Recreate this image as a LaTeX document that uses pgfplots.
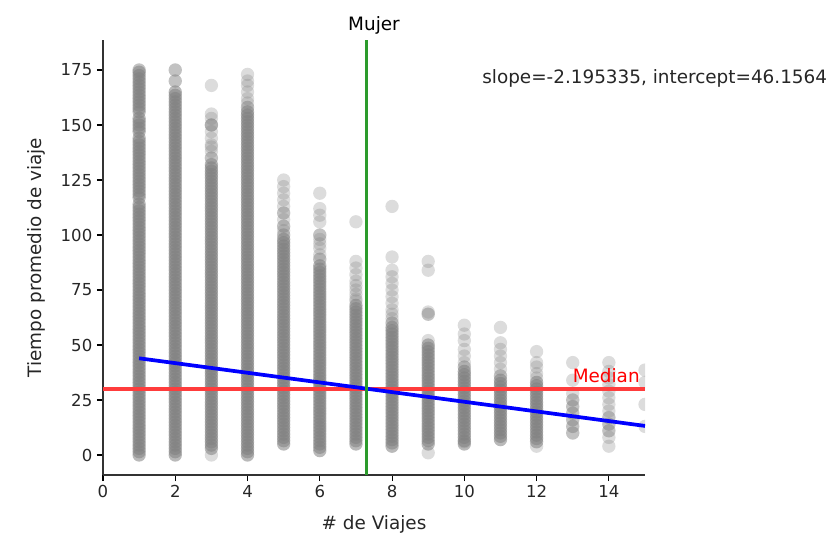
\documentclass[border=0pt]{standalone}
\usepackage{fontspec}
\setmainfont{DejaVu Sans}
\usepackage{pgfplots}
\pgfplotsset{compat=1.18}
\definecolor{pgray}{RGB}{128,128,128}
\definecolor{mgreen}{RGB}{44,155,44}
\definecolor{mred}{RGB}{255,60,60}
\begin{document}
\begin{tikzpicture}
\useasboundingbox (-77.25pt,-42.75pt) rectangle (543.75pt,356.25pt);
\begin{axis}[
  scale only axis, width=406.5pt, height=326.25pt,
  xmin=0, xmax=15, ymin=-9.09, ymax=188.64,
  axis lines=left, axis line style={-, draw=black!80, line width=0.8pt},
  tick align=outside, major tick length=4.5pt,
  tick style={black, line width=0.8pt},
  xtick={0,2,...,14}, ytick={0,25,...,175},
  /pgf/number format/assume math mode=true,
  ticklabel style={font=\fontsize{12.4}{14}\selectfont, text=black!85},
  xlabel={\# de Viajes}, ylabel={Tiempo promedio de viaje},
  label style={font=\fontsize{13.8}{16}\selectfont, text=black!85},
  xlabel style={yshift=-6pt}, ylabel style={yshift=5pt},
  title={Mujer}, title style={font=\fontsize{13.8}{16}\selectfont, yshift=-5pt},
  clip marker paths=true,
  dense/.style={only marks, mark=*, mark size=5pt, color=pgray, mark options={fill=pgray, draw opacity=0, fill opacity=0.55}},
]
% dense parts of each column
\addplot[dense] coordinates {
(1,0)(1,3)(1,6)(1,9)(1,12)(1,15)(1,18)(1,21)(1,24)(1,27)(1,30)(1,33)(1,36)(1,39)(1,42)(1,45)(1,48)(1,51)(1,54)(1,57)(1,60)(1,63)(1,66)(1,69)(1,72)(1,75)(1,78)(1,81)(1,84)(1,87)(1,90)(1,93)(1,96)(1,99)(1,102)(1,105)(1,108)(1,111)(1,114)(1,117)(1,120)(1,123)(1,126)(1,129)(1,132)(1,135)(1,138)(1,141)(1,144)(1,147)(1,150)(1,153)(1,156)(1,159)(1,162)(1,165)(1,168)(1,171)(1,174)
(2,0)(2,3)(2,6)(2,9)(2,12)(2,15)(2,18)(2,21)(2,24)(2,27)(2,30)(2,33)(2,36)(2,39)(2,42)(2,45)(2,48)(2,51)(2,54)(2,57)(2,60)(2,63)(2,66)(2,69)(2,72)(2,75)(2,78)(2,81)(2,84)(2,87)(2,90)(2,93)(2,96)(2,99)(2,102)(2,105)(2,108)(2,111)(2,114)(2,117)(2,120)(2,123)(2,126)(2,129)(2,132)(2,135)(2,138)(2,141)(2,144)(2,147)(2,150)(2,153)(2,156)(2,159)(2,162)(2,165)
(3,3)(3,6)(3,9)(3,12)(3,15)(3,18)(3,21)(3,24)(3,27)(3,30)(3,33)(3,36)(3,39)(3,42)(3,45)(3,48)(3,51)(3,54)(3,57)(3,60)(3,63)(3,66)(3,69)(3,72)(3,75)(3,78)(3,81)(3,84)(3,87)(3,90)(3,93)(3,96)(3,99)(3,102)(3,105)(3,108)(3,111)(3,114)(3,117)(3,120)(3,123)(3,126)(3,129)(3,132)
(4,0)(4,3)(4,6)(4,9)(4,12)(4,15)(4,18)(4,21)(4,24)(4,27)(4,30)(4,33)(4,36)(4,39)(4,42)(4,45)(4,48)(4,51)(4,54)(4,57)(4,60)(4,63)(4,66)(4,69)(4,72)(4,75)(4,78)(4,81)(4,84)(4,87)(4,90)(4,93)(4,96)(4,99)(4,102)(4,105)(4,108)(4,111)(4,114)(4,117)(4,120)(4,123)(4,126)(4,129)(4,132)(4,135)(4,138)(4,141)(4,144)(4,147)(4,150)(4,153)(4,156)
(5,5)(5,8)(5,11)(5,14)(5,17)(5,20)(5,23)(5,26)(5,29)(5,32)(5,35)(5,38)(5,41)(5,44)(5,47)(5,50)(5,53)(5,56)(5,59)(5,62)(5,65)(5,68)(5,71)(5,74)(5,77)(5,80)(5,83)(5,86)(5,89)(5,92)(5,95)(5,98)
(6,2)(6,5)(6,8)(6,11)(6,14)(6,17)(6,20)(6,23)(6,26)(6,29)(6,32)(6,35)(6,38)(6,41)(6,44)(6,47)(6,50)(6,53)(6,56)(6,59)(6,62)(6,65)(6,68)(6,71)(6,74)(6,77)(6,80)(6,83)(6,86)
(7,5)(7,8)(7,11)(7,14)(7,17)(7,20)(7,23)(7,26)(7,29)(7,32)(7,35)(7,38)(7,41)(7,44)(7,47)(7,50)(7,53)(7,56)(7,59)(7,62)(7,65)(7,68)
(8,4)(8,7)(8,10)(8,13)(8,16)(8,19)(8,22)(8,25)(8,28)(8,31)(8,34)(8,37)(8,40)(8,43)(8,46)(8,49)(8,52)(8,55)(8,58)
(9,5)(9,8)(9,11)(9,14)(9,17)(9,20)(9,23)(9,26)(9,29)(9,32)(9,35)(9,38)(9,41)(9,44)(9,47)(9,50)
(10,5)(10,8)(10,11)(10,14)(10,17)(10,20)(10,23)(10,26)(10,29)(10,32)(10,35)(10,38)
(11,7)(11,10)(11,13)(11,16)(11,19)(11,22)(11,25)(11,28)(11,31)(11,34)
(12,6)(12,9)(12,12)(12,15)(12,18)(12,21)(12,24)(12,27)(12,30)(12,33)
};
\addplot[dense] coordinates {
(1,1.5)(1,4.5)(1,7.5)(1,10.5)(1,13.5)(1,16.5)(1,19.5)(1,22.5)(1,25.5)(1,28.5)(1,31.5)(1,34.5)(1,37.5)(1,40.5)(1,43.5)(1,46.5)(1,49.5)(1,52.5)(1,55.5)(1,58.5)(1,61.5)(1,64.5)(1,67.5)(1,70.5)(1,73.5)(1,76.5)(1,79.5)(1,82.5)(1,85.5)(1,88.5)(1,91.5)(1,94.5)(1,97.5)(1,100.5)(1,103.5)(1,106.5)(1,109.5)(1,112.5)(1,118.5)(1,121.5)(1,124.5)(1,127.5)(1,130.5)(1,133.5)(1,136.5)(1,139.5)(1,142.5)(1,148.5)(1,151.5)(1,157.5)(1,160.5)(1,163.5)(1,166.5)(1,169.5)(1,172.5)
(2,1.5)(2,4.5)(2,7.5)(2,10.5)(2,13.5)(2,16.5)(2,19.5)(2,22.5)(2,25.5)(2,28.5)(2,31.5)(2,34.5)(2,37.5)(2,40.5)(2,43.5)(2,46.5)(2,49.5)(2,52.5)(2,55.5)(2,58.5)(2,61.5)(2,64.5)(2,67.5)(2,70.5)(2,73.5)(2,76.5)(2,79.5)(2,82.5)(2,85.5)(2,88.5)(2,91.5)(2,94.5)(2,97.5)(2,100.5)(2,103.5)(2,106.5)(2,109.5)(2,112.5)(2,115.5)(2,118.5)(2,121.5)(2,124.5)(2,127.5)(2,130.5)(2,133.5)(2,136.5)(2,139.5)(2,142.5)(2,145.5)(2,148.5)(2,151.5)(2,154.5)(2,157.5)(2,160.5)(2,163.5)
(3,4.5)(3,7.5)(3,10.5)(3,13.5)(3,16.5)(3,19.5)(3,22.5)(3,25.5)(3,28.5)(3,31.5)(3,34.5)(3,37.5)(3,40.5)(3,43.5)(3,46.5)(3,49.5)(3,52.5)(3,55.5)(3,58.5)(3,61.5)(3,64.5)(3,67.5)(3,70.5)(3,73.5)(3,76.5)(3,79.5)(3,82.5)(3,85.5)(3,88.5)(3,91.5)(3,94.5)(3,97.5)(3,100.5)(3,103.5)(3,106.5)(3,109.5)(3,112.5)(3,115.5)(3,118.5)(3,121.5)(3,124.5)(3,127.5)(3,130.5)
(4,1.5)(4,4.5)(4,7.5)(4,10.5)(4,13.5)(4,16.5)(4,19.5)(4,22.5)(4,25.5)(4,28.5)(4,31.5)(4,34.5)(4,37.5)(4,40.5)(4,43.5)(4,46.5)(4,49.5)(4,52.5)(4,55.5)(4,58.5)(4,61.5)(4,64.5)(4,67.5)(4,70.5)(4,73.5)(4,76.5)(4,79.5)(4,82.5)(4,85.5)(4,88.5)(4,91.5)(4,94.5)(4,97.5)(4,100.5)(4,103.5)(4,106.5)(4,109.5)(4,112.5)(4,115.5)(4,118.5)(4,121.5)(4,124.5)(4,127.5)(4,130.5)(4,133.5)(4,136.5)(4,139.5)(4,142.5)(4,145.5)(4,148.5)(4,151.5)(4,154.5)
(5,6.5)(5,9.5)(5,12.5)(5,15.5)(5,18.5)(5,21.5)(5,24.5)(5,27.5)(5,30.5)(5,33.5)(5,36.5)(5,39.5)(5,42.5)(5,45.5)(5,48.5)(5,51.5)(5,54.5)(5,57.5)(5,60.5)(5,63.5)(5,66.5)(5,69.5)(5,72.5)(5,75.5)(5,78.5)(5,81.5)(5,84.5)(5,87.5)(5,90.5)(5,93.5)(5,96.5)
(6,3.5)(6,6.5)(6,9.5)(6,12.5)(6,15.5)(6,18.5)(6,21.5)(6,24.5)(6,27.5)(6,30.5)(6,33.5)(6,36.5)(6,39.5)(6,42.5)(6,45.5)(6,48.5)(6,51.5)(6,54.5)(6,57.5)(6,60.5)(6,63.5)(6,66.5)(6,69.5)(6,72.5)(6,75.5)(6,78.5)(6,81.5)(6,84.5)
(7,6.5)(7,9.5)(7,12.5)(7,15.5)(7,18.5)(7,21.5)(7,24.5)(7,27.5)(7,30.5)(7,33.5)(7,36.5)(7,39.5)(7,42.5)(7,45.5)(7,48.5)(7,51.5)(7,54.5)(7,57.5)(7,60.5)(7,63.5)(7,66.5)
(8,5.5)(8,8.5)(8,11.5)(8,14.5)(8,17.5)(8,20.5)(8,23.5)(8,26.5)(8,29.5)(8,32.5)(8,35.5)(8,38.5)(8,41.5)(8,44.5)(8,47.5)(8,50.5)(8,53.5)(8,56.5)
(9,6.5)(9,9.5)(9,12.5)(9,15.5)(9,18.5)(9,21.5)(9,24.5)(9,27.5)(9,30.5)(9,33.5)(9,36.5)(9,39.5)(9,42.5)(9,45.5)(9,48.5)
(10,6.5)(10,9.5)(10,12.5)(10,15.5)(10,18.5)(10,21.5)(10,24.5)(10,27.5)(10,30.5)(10,33.5)(10,36.5)
(11,8.5)(11,11.5)(11,14.5)(11,17.5)(11,20.5)(11,23.5)(11,26.5)(11,29.5)(11,32.5)
(12,7.5)(12,10.5)(12,13.5)(12,16.5)(12,19.5)(12,22.5)(12,25.5)(12,28.5)(12,31.5)
};
% sparse tails
\addplot[only marks, mark=*, mark size=5pt, color=pgray, mark options={fill=pgray, draw opacity=0, fill opacity=0.28}] coordinates {
(1,175)(1,175)
(2,170)(2,170)(2,175)(2,175)
(3,0)(3,135)(3,135)(3,138)(3,141)(3,140)(3,144)(3,147)(3,150)(3,150)(3,150)(3,153)(3,155)(3,168)
(4,158)(4,158)(4,160)(4,162)(4,165)(4,168)(4,170)(4,173)
(5,100)(5,100)(5,102)(5,104)(5,104)(5,107)(5,110)(5,110)(5,113)(5,116)(5,119)(5,122)(5,125)
(6,89)(6,89)(6,91)(6,94)(6,96)(6,98)(6,100)(6,100)(6,106)(6,109)(6,112)(6,119)
(7,70)(7,71)(7,73)(7,75)(7,77)(7,79)(7,82)(7,85)(7,88)(7,106)
(8,60)(8,60)(8,62)(8,64)(8,66)(8,69)(8,72)(8,75)(8,78)(8,81)(8,84)(8,90)(8,113)
(9,1)(9,52)(9,64)(9,64)(9,65)(9,84)(9,88)
(10,6)(10,40)(10,40)(10,42)(10,45)(10,48)(10,52)(10,55)(10,59)
(11,36)(11,36)(11,39)(11,42)(11,45)(11,48)(11,51)(11,58)
(12,4)(12,35)(12,37)(12,40)(12,42)(12,47)
(13,10)(13,10)(13,13)(13,13)(13,16)(13,16)(13,19)(13,19)(13,22)(13,22)(13,25)(13,25)(13,28)(13,34)(13,42)
(14,4)(14,8)(14,11)(14,11)(14,14)(14,14)(14,17)(14,17)(14,20)(14,23)(14,26)(14,29)(14,32)(14,35)(14,38)(14,42)
(15,13)(15,23)(15,33)(15,38.6)
};
% median
\addplot[draw=mred, line width=2.6pt] coordinates {(0,30) (15,30)};
% regression line
\addplot[draw=blue, line width=2.8pt] coordinates {(1,43.961) (15,13.226)};
% vertical line
\addplot[draw=mgreen, line width=2.2pt] coordinates {(7.3,-9.09) (7.3,188.64)};
\coordinate (med) at (axis cs:14.86,35.9);
\coordinate (slp) at (axis cs:10.49,171.4);
\end{axis}
\node[anchor=east, inner sep=0pt, text=red, font=\fontsize{13.8}{16}\selectfont] at (med) {Median};
\node[anchor=west, inner sep=0pt, text=black!85, font=\fontsize{13.8}{16}\selectfont] at (slp) {slope=-2.195335, intercept=46.1564};
\end{tikzpicture}
\end{document}
